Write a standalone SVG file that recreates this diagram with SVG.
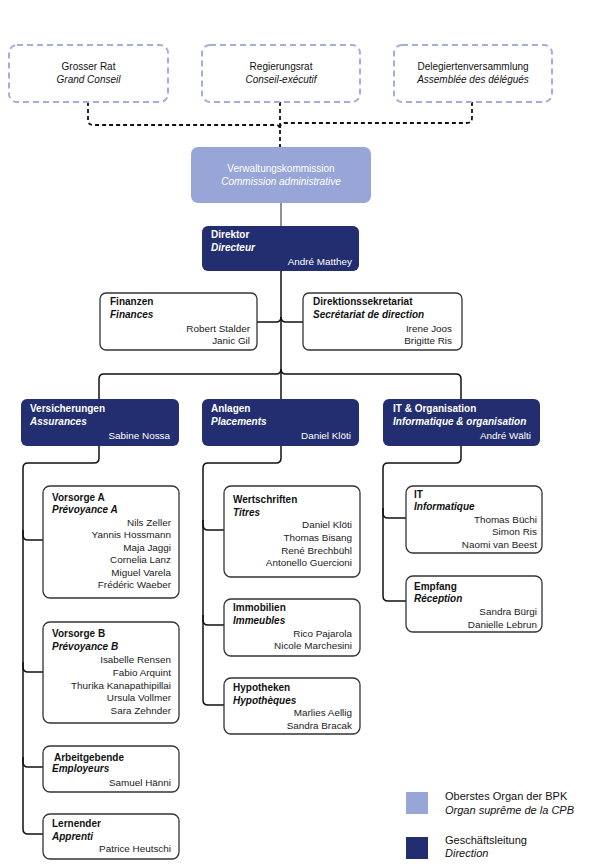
<svg xmlns="http://www.w3.org/2000/svg" width="589" height="867" viewBox="0 0 589 867">
<style>
text{font-family:"Liberation Sans",Arial,sans-serif;font-size:10px;fill:#111}
.b{font-weight:bold}
.bi{font-weight:bold;font-style:italic}
.i{font-style:italic}
.n{font-size:9.9px;text-anchor:end;fill:#1a1a1a}
.c{text-anchor:middle}
.w{fill:#fff}
.top{fill:#fff;stroke:#a3aed9;stroke-width:2;stroke-dasharray:6 4}
.light{fill:#97a6d6}
.dark{fill:#222e6f}
.box{fill:#fff;stroke:#333;stroke-width:1.3}
.con{fill:none;stroke:#111;stroke-width:1.5}
.dash{fill:none;stroke:#111;stroke-width:1.8;stroke-dasharray:4 3}
.lg{font-size:11px}
</style>
<g id="connectors">
<path class="dash" d="M88,102 V120 Q88,125 93,125 H276 Q280,125 280,130"/>
<path class="dash" d="M472,102 V118 Q472,123 467,123 H285 Q280,123 280,128"/>
<path class="dash" d="M280,102 V147"/>
<path d="M281,203 V226" fill="none" stroke="#555" stroke-width="1.3"/>
<path class="con" d="M281,271 V399"/>
<path class="con" d="M257,322 H276 Q281,322 281,317"/>
<path class="con" d="M303,322 H286 Q281,322 281,317"/>
<path class="con" d="M99,399 V379 Q99,374 104,374 H276 Q281,374 281,369"/>
<path class="con" d="M461,399 V379 Q461,374 456,374 H286 Q281,374 281,369"/>
<path class="con" d="M99,446 V458 Q99,463 94,463 H28 Q23,463 23,468 V829 Q23,834 28,834 H43"/>
<path class="con" d="M23,530 V535 Q23,540 28,540 H43"/>
<path class="con" d="M23,662 V667 Q23,672 28,672 H43"/>
<path class="con" d="M23,757 V762 Q23,767 28,767 H43"/>
<path class="con" d="M281,446 V458 Q281,463 276,463 H208 Q203,463 203,468 V700 Q203,705 208,705 H224"/>
<path class="con" d="M203,520 V525 Q203,530 208,530 H224"/>
<path class="con" d="M203,615 V620 Q203,625 208,625 H224"/>
<path class="con" d="M461,446 V458 Q461,463 456,463 H388 Q383,463 383,468 V596 Q383,601 388,601 H406"/>
<path class="con" d="M383,508 V513 Q383,518 388,518 H406"/>
</g>
<g id="grosser-rat">
<rect class="top" x="9" y="45" width="159" height="57" rx="8"/>
<text class="c" x="88.5" y="70">Grosser Rat</text>
<text class="c i" x="88.5" y="83">Grand Conseil</text>
</g>
<g id="regierungsrat">
<rect class="top" x="202" y="45" width="158" height="57" rx="8"/>
<text class="c" x="281" y="70">Regierungsrat</text>
<text class="c i" x="281" y="83">Conseil-exécutif</text>
</g>
<g id="delegiertenversammlung">
<rect class="top" x="394" y="45" width="158" height="57" rx="8"/>
<text class="c" x="473" y="70">Delegiertenversammlung</text>
<text class="c i" x="473" y="83">Assemblée des délégués</text>
</g>
<g id="verwaltungskommission">
<rect class="light" x="191" y="147" width="180" height="56" rx="7"/>
<text class="c w" x="281" y="172">Verwaltungskommission</text>
<text class="c i w" x="281" y="185">Commission administrative</text>
</g>
<g id="direktor">
<rect class="dark" x="202" y="226" width="157" height="45" rx="6"/>
<text class="b w" x="211" y="238">Direktor</text>
<text class="bi w" x="211" y="251">Directeur</text>
<text class="n w" x="352" y="265">André Matthey</text>
</g>
<g id="finanzen">
<rect class="box" x="100" y="293" width="157" height="57" rx="6"/>
<text class="b" x="110" y="305">Finanzen</text>
<text class="bi" x="110" y="318">Finances</text>
<text class="n" x="250" y="332">Robert Stalder</text>
<text class="n" x="250" y="344">Janic Gil</text>
</g>
<g id="direktionssekretariat">
<rect class="box" x="303" y="293" width="159" height="57" rx="6"/>
<text class="b" x="313" y="305">Direktionssekretariat</text>
<text class="bi" x="313" y="318">Secrétariat de direction</text>
<text class="n" x="452" y="332">Irene Joos</text>
<text class="n" x="452" y="344">Brigitte Ris</text>
</g>
<g id="versicherungen">
<rect class="dark" x="21" y="399" width="158" height="47" rx="6"/>
<text class="b w" x="30" y="412">Versicherungen</text>
<text class="bi w" x="30" y="425">Assurances</text>
<text class="n w" x="170" y="439">Sabine Nossa</text>
</g>
<g id="anlagen">
<rect class="dark" x="202" y="399" width="157" height="47" rx="6"/>
<text class="b w" x="211" y="412">Anlagen</text>
<text class="bi w" x="211" y="425">Placements</text>
<text class="n w" x="351" y="439">Daniel Klöti</text>
</g>
<g id="it-organisation">
<rect class="dark" x="383" y="399" width="157" height="47" rx="6"/>
<text class="b w" x="393" y="412">IT &amp; Organisation</text>
<text class="bi w" x="393" y="425">Informatique &amp; organisation</text>
<text class="n w" x="531" y="439">André Wälti</text>
</g>
<g id="vorsorge-a">
<rect class="box" x="43" y="486" width="136" height="112" rx="7"/>
<text class="b" x="52" y="501">Vorsorge A</text>
<text class="bi" x="52" y="513">Prévoyance A</text>
<text class="n" x="171" y="526">Nils Zeller</text>
<text class="n" x="171" y="538">Yannis Hossmann</text>
<text class="n" x="171" y="551">Maja Jaggi</text>
<text class="n" x="171" y="563">Cornelia Lanz</text>
<text class="n" x="171" y="576">Miguel Varela</text>
<text class="n" x="171" y="588">Frédéric Waeber</text>
</g>
<g id="vorsorge-b">
<rect class="box" x="43" y="622" width="136" height="101" rx="7"/>
<text class="b" x="52" y="637">Vorsorge B</text>
<text class="bi" x="52" y="650">Prévoyance B</text>
<text class="n" x="171" y="663">Isabelle Rensen</text>
<text class="n" x="171" y="676">Fabio Arquint</text>
<text class="n" x="171" y="689">Thurika Kanapathipillai</text>
<text class="n" x="171" y="701">Ursula Vollmer</text>
<text class="n" x="171" y="714">Sara Zehnder</text>
</g>
<g id="arbeitgebende">
<rect class="box" x="43" y="746" width="136" height="46" rx="7"/>
<text class="b" x="54" y="761">Arbeitgebende</text>
<text class="bi" x="52" y="772">Employeurs</text>
<text class="n" x="171" y="786">Samuel Hänni</text>
</g>
<g id="lernender">
<rect class="box" x="43" y="814" width="136" height="45" rx="7"/>
<text class="b" x="52" y="827">Lernender</text>
<text class="bi" x="52" y="840">Apprenti</text>
<text class="n" x="171" y="852">Patrice Heutschi</text>
</g>
<g id="wertschriften">
<rect class="box" x="224" y="486" width="136" height="91" rx="7"/>
<text class="b" x="233" y="503">Wertschriften</text>
<text class="bi" x="233" y="516">Titres</text>
<text class="n" x="352" y="528">Daniel Klöti</text>
<text class="n" x="352" y="541">Thomas Bisang</text>
<text class="n" x="352" y="554">René Brechbühl</text>
<text class="n" x="352" y="566">Antonello Guercioni</text>
</g>
<g id="immobilien">
<rect class="box" x="224" y="599" width="136" height="57" rx="7"/>
<text class="b" x="233" y="611">Immobilien</text>
<text class="bi" x="233" y="624">Immeubles</text>
<text class="n" x="352" y="637">Rico Pajarola</text>
<text class="n" x="352" y="649">Nicole Marchesini</text>
</g>
<g id="hypotheken">
<rect class="box" x="224" y="678" width="136" height="56" rx="7"/>
<text class="b" x="233" y="691">Hypotheken</text>
<text class="bi" x="233" y="704">Hypothèques</text>
<text class="n" x="352" y="716">Marlies Aellig</text>
<text class="n" x="352" y="729">Sandra Bracak</text>
</g>
<g id="it">
<rect class="box" x="406" y="486" width="136" height="67" rx="7"/>
<text class="b" x="414" y="498">IT</text>
<text class="bi" x="414" y="510">Informatique</text>
<text class="n" x="537" y="523">Thomas Büchi</text>
<text class="n" x="537" y="535">Simon Ris</text>
<text class="n" x="537" y="548">Naomi van Beest</text>
</g>
<g id="empfang">
<rect class="box" x="406" y="576" width="136" height="56" rx="7"/>
<text class="b" x="414" y="590">Empfang</text>
<text class="bi" x="414" y="602">Réception</text>
<text class="n" x="537" y="615">Sandra Bürgi</text>
<text class="n" x="537" y="628">Danielle Lebrun</text>
</g>
<g id="legend">
<rect class="light" x="406" y="792" width="22" height="22"/>
<text class="lg" x="445" y="800">Oberstes Organ der BPK</text>
<text class="lg i" x="445" y="814">Organ suprême de la CPB</text>
<rect class="dark" x="406" y="837" width="22" height="22"/>
<text class="lg" x="445" y="844">Geschäftsleitung</text>
<text class="lg i" x="445" y="857">Direction</text>
</g>
</svg>
